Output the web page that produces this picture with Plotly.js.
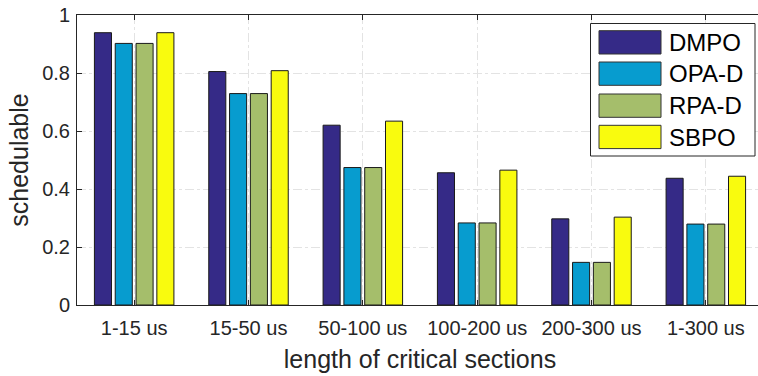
<!DOCTYPE html>
<html>
<head>
<meta charset="utf-8">
<script src="https://cdn.plot.ly/plotly-3.0.1.min.js"></script>
<style>
html,body{margin:0;padding:0;overflow:hidden;background:#fff;}
#chart{width:764px;height:376px;}
</style>
</head>
<body>
<div id="chart"></div>
<script>
const categories = ["1-15 us", "15-50 us", "50-100 us", "100-200 us", "200-300 us", "1-300 us"];
const seriesNames = ["DMPO", "OPA-D", "RPA-D", "SBPO"];
const DMPO  = [0.939, 0.805, 0.620, 0.456, 0.297, 0.437];
const OPA_D = [0.902, 0.729, 0.474, 0.283, 0.147, 0.279];
const RPA_D = [0.902, 0.729, 0.474, 0.283, 0.147, 0.279];
const SBPO  = [0.939, 0.808, 0.634, 0.465, 0.303, 0.444];
const seriesValues = [DMPO, OPA_D, RPA_D, SBPO];
const colors = ["#352A87", "#079CCF", "#A5BE6B", "#F9FB0E"];
const yTicks = [0, 0.2, 0.4, 0.6, 0.8, 1];

const textColor = "#262626";
const FONT = "Liberation Sans, Arial, Helvetica, sans-serif";

const traces = seriesNames.map((name, i) => ({
  type: "bar",
  name: name,
  x: categories,
  y: seriesValues[i],
  marker: {color: colors[i], line: {color: "#1a1a1a", width: 1}},
  showlegend: false,
  hoverinfo: "x+y+name"
}));

// plot-area geometry in pixels (for the manual legend)
const W = 764, H = 376, mL = 77, mR = 1, mT = 15, mB = 71;
const pw = W - mL - mR, ph = H - mT - mB;
const px = v => (v - mL) / pw;
const py = v => (mT + ph - v) / ph;

const shapes = [];
const annotations = [];
// legend box
shapes.push({type: "rect", xref: "paper", yref: "paper",
  x0: px(590.5), x1: px(755), y0: py(156), y1: py(23.5),
  line: {color: textColor, width: 1}, fillcolor: "#ffffff", layer: "above"});
const symTop = [30.7, 62, 94, 125.3];
seriesNames.forEach((name, i) => {
  shapes.push({type: "rect", xref: "paper", yref: "paper",
    x0: px(599), x1: px(661), y0: py(symTop[i] + 23.3), y1: py(symTop[i]),
    line: {color: "#333333", width: 1}, fillcolor: colors[i], layer: "above"});
  annotations.push({xref: "paper", yref: "paper", x: px(667), y: py(symTop[i] + 11.7),
    xanchor: "left", yanchor: "middle", text: name, showarrow: false,
    font: {family: FONT, size: 24, color: "#000000"}});
});

const layout = {
  width: W, height: H,
  margin: {l: mL, r: mR, t: mT, b: mB, pad: 0},
  paper_bgcolor: "#ffffff", plot_bgcolor: "#ffffff",
  barmode: "group", bargap: 0.272, bargroupgap: 0.18,
  font: {family: FONT, color: textColor},
  xaxis: {
    type: "category", range: [-0.5, 5.5],
    showline: true, linecolor: textColor, linewidth: 1, mirror: "ticks",
    ticks: "inside", ticklen: 5, tickcolor: textColor,
    showgrid: true, gridcolor: "#e3e3e3", griddash: "dashdot", gridwidth: 1,
    tickfont: {family: FONT, size: 20, color: textColor},
    ticklabelstandoff: 5,
    title: {text: "length of critical sections", font: {family: FONT, size: 25, color: textColor}, standoff: 12},
    fixedrange: true
  },
  yaxis: {
    range: [0, 1], tickvals: yTicks, ticktext: yTicks.map(String),
    showline: true, linecolor: textColor, linewidth: 1, mirror: "ticks",
    ticks: "inside", ticklen: 5, tickcolor: textColor,
    showgrid: true, gridcolor: "#e3e3e3", griddash: "dashdot", gridwidth: 1,
    zeroline: false,
    tickfont: {family: FONT, size: 20, color: textColor},
    ticklabelstandoff: 2,
    title: {text: "schedulable", font: {family: FONT, size: 25, color: textColor}, standoff: 6},
    fixedrange: true
  },
  shapes: shapes,
  annotations: annotations,
  showlegend: false
};

Plotly.newPlot("chart", traces, layout, {displayModeBar: false, staticPlot: true});
</script>
</body>
</html>
